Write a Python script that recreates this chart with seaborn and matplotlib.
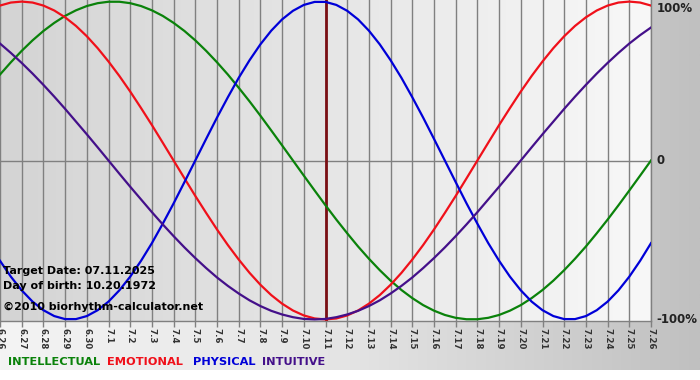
import matplotlib
matplotlib.use("Agg")
import matplotlib.pyplot as plt
import seaborn as sns
import numpy as np
import pandas as pd

# dates shown on the x axis (6.26 -> 7.26)
day_labels = ["6.26", "6.27", "6.28", "6.29", "6.30",
              "7.1", "7.2", "7.3", "7.4", "7.5", "7.6", "7.7", "7.8", "7.9", "7.10",
              "7.11", "7.12", "7.13", "7.14", "7.15", "7.16", "7.17", "7.18", "7.19",
              "7.20", "7.21", "7.22", "7.23", "7.24", "7.25", "7.26"]
target_label = "7.11"

# cycle values every half day, 6.26 -> 7.26 (-1 .. 1)
physical = [-0.631, -0.731, -0.817, -0.888, -0.942, -0.979, -0.998, -0.998, -0.979, -0.942,
            -0.888, -0.817, -0.731, -0.631, -0.520, -0.398, -0.270, -0.136,
            0.000, 0.136, 0.270, 0.398, 0.520, 0.631, 0.731, 0.817, 0.888, 0.942,
            0.979, 0.998, 0.998, 0.979, 0.942, 0.888, 0.817, 0.731, 0.631, 0.520,
            0.398, 0.270, 0.136, 0.000, -0.136, -0.270, -0.398, -0.520, -0.631, -0.731,
            -0.817, -0.888, -0.942, -0.979, -0.998, -0.998, -0.979, -0.942, -0.888, -0.817,
            -0.731, -0.631, -0.520]
emotional = [0.975, 0.994, 1.000, 0.994, 0.975, 0.944, 0.901, 0.847, 0.782, 0.707,
             0.623, 0.532, 0.434, 0.330, 0.223, 0.112, 0.000, -0.112, -0.223, -0.330,
             -0.434, -0.532, -0.623, -0.707, -0.782, -0.847, -0.901, -0.944, -0.975, -0.994,
             -1.000,
             -0.994, -0.975, -0.944, -0.901, -0.847, -0.782, -0.707, -0.623, -0.532, -0.434,
             -0.330, -0.223, -0.112, 0.000, 0.112, 0.223, 0.330, 0.434, 0.532, 0.623,
             0.707, 0.782, 0.847, 0.901, 0.944, 0.975, 0.994, 1.000, 0.994, 0.975]
intellectual = [0.541, 0.618, 0.690, 0.756, 0.815, 0.866, 0.910, 0.945, 0.972, 0.990,
                0.999, 0.999, 0.990, 0.972, 0.945, 0.910, 0.866, 0.815, 0.756, 0.690,
                0.618, 0.541, 0.458, 0.372, 0.282, 0.189, 0.095, 0.000, -0.095, -0.189,
                -0.282, -0.372, -0.458, -0.541, -0.618, -0.690, -0.756, -0.815, -0.866, -0.910,
                -0.945, -0.972, -0.990, -0.999, -0.999, -0.990, -0.972, -0.945, -0.910, -0.866,
                -0.815, -0.756, -0.690, -0.618, -0.541, -0.458, -0.372, -0.282, -0.189, -0.095,
                0.000]
intuitive = [0.736, 0.677, 0.614, 0.547, 0.476, 0.402, 0.325, 0.245, 0.165, 0.083,
             0.000, -0.083, -0.165, -0.245, -0.325, -0.402, -0.476, -0.547, -0.614, -0.677,
             -0.736, -0.789, -0.837, -0.880, -0.916, -0.946, -0.969, -0.986, -0.997, -1.000,
             -0.997, -0.986, -0.969, -0.946, -0.916, -0.880, -0.837, -0.789, -0.736, -0.677,
             -0.614, -0.547, -0.476, -0.402, -0.325, -0.245, -0.165, -0.083, 0.000, 0.083,
             0.165, 0.245, 0.325, 0.402, 0.476, 0.547, 0.614, 0.677, 0.736, 0.789,
             0.837]

series_names = ["INTELLECTUAL", "EMOTIONAL", "PHYSICAL", "INTUITIVE"]
series_colors = ["#0a820a", "#f0101a", "#0000d8", "#44108a"]

W, H = 700, 380
fig = plt.figure(figsize=(W / 100, H / 100), dpi=100)
fig.patch.set_facecolor("white")

# grey frame behind everything
bg = fig.add_axes([0, 10 / H, 1, 370 / H])
grad = np.linspace(0, 1, 256).reshape(1, -1)
bg.imshow(grad, aspect="auto", cmap=matplotlib.colors.LinearSegmentedColormap.from_list(
    "frame", ["#f4f4f4", "#e4e4e4", "#c0c0c0"]), extent=[0, 1, 0, 1])
bg.axis("off")

ax = fig.add_axes([0, 59 / H, 651 / W, 321 / H])
n = len(day_labels)
x = np.arange(n)
ax.imshow(grad, aspect="auto", cmap=matplotlib.colors.LinearSegmentedColormap.from_list(
    "plot", ["#d4d4d4", "#f8f8f8"]), extent=[0, n - 1, -1.01, 1.01], zorder=0)

df = pd.DataFrame({"day": np.arange(len(physical)) / 2.0,
                   "INTELLECTUAL": intellectual, "EMOTIONAL": emotional,
                   "PHYSICAL": physical, "INTUITIVE": intuitive})

for xi in x:
    ax.axvline(xi, color="#808080", lw=1, zorder=1)
ax.axhline(0, color="#808080", lw=1, zorder=1)
ax.axvline(day_labels.index(target_label), color="#7a0f14", lw=2, zorder=3)

for name, col in zip(series_names, series_colors):
    sns.lineplot(data=df, x="day", y=name, color=col, lw=1.6, ax=ax, zorder=4)

ax.set_xlim(0, n - 1)
ax.set_ylim(-1.01, 1.01)
ax.set_xlabel("")
ax.set_ylabel("")
ax.set_yticks([])
ax.set_xticks(x)
ax.set_xticklabels(day_labels, rotation=-90, fontsize=6.2, fontweight="bold", color="#333333")
ax.tick_params(axis="x", length=4, width=1, color="#808080", pad=1)
for s in ["top", "left"]:
    ax.spines[s].set_visible(False)
for s in ["bottom", "right"]:
    ax.spines[s].set_color("#808080")
    ax.spines[s].set_linewidth(1)

ytr = ax.get_yaxis_transform()
ax.text(1.008, 0.995, "100%", transform=ytr, ha="left", va="top",
        fontsize=8.5, fontweight="bold", color="#222222", clip_on=False)
ax.text(1.008, 0, "0", transform=ytr, ha="left", va="center",
        fontsize=8.5, fontweight="bold", color="#222222", clip_on=False)
ax.text(1.008, -1, "-100%", transform=ytr, ha="left", va="center",
        fontsize=8.5, fontweight="bold", color="#222222", clip_on=False)

info = ["Target Date: 07.11.2025", "Day of birth: 10.20.1972"]
fig.text(3 / W, 1 - 271 / H, info[0], fontsize=8, fontweight="bold", va="center", zorder=5)
fig.text(3 / W, 1 - 286 / H, info[1], fontsize=8, fontweight="bold", va="center", zorder=5)
fig.text(3 / W, 1 - 307 / H, "\u00a92010 biorhythm-calculator.net", fontsize=8,
         fontweight="bold", va="center", zorder=5)

legend_x = [8, 107, 193, 262]
for lx, name, col in zip(legend_x, series_names, series_colors):
    fig.text(lx / W, 1 - 362 / H, name, fontsize=8.2, fontweight="bold", color=col, va="center")

fig.savefig("out.png", dpi=100)
